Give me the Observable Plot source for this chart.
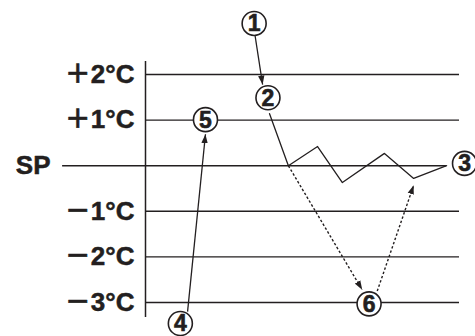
<!DOCTYPE html>
<html><head><meta charset="utf-8">
<script src="https://cdn.jsdelivr.net/npm/d3@7"></script>
<script src="https://cdn.jsdelivr.net/npm/@observablehq/plot@0.6"></script>
<style>body{margin:0;background:#fff}</style>
</head><body><div id="chart"></div>
<script>
// temperature deviation levels (°C from set point) and their labels
const levels = [2, 1, -1, -2, -3];
const levelLabels = ["＋2°C", "＋1°C", "－1°C", "－2°C", "－3°C"];
const setpoint = 0;
const setpointLabel = "SP";

// time axis (arbitrary units 0..100)
const timeStart = 0, timeEnd = 100;
const spLineStart = -26.4, spLineEnd = 95.9;
const axisTop = 2.285, axisBottom = -3.33;

// controlled temperature response (solid zigzag)
const responseT = [39.5, 45.5, 54.8, 62.7, 76.1, 85.4, 95.9];
const responseV = [1.14, 0, 0.42, -0.37, 0.27, -0.28, 0];

// circled step numbers
const stepIds = ["1", "2", "3", "4", "5", "6"];
const stepT = [34.6, 39.0, 101.6, 11.1, 19.1, 71.2];
const stepV = [3.12, 1.49, 0.05, -3.46, 1.01, -3.03];

// solid arrows: 1 → 2, 4 → 5
const solidFromT = [34.9, 13.4], solidFromV = [2.85, -3.2];
const solidToT = [37.3, 19.1], solidToV = [1.78, 0.69];

// dotted arrows: SP → 6, 6 → response dip
const dotFromT = [45.5, 73.8], dotFromV = [0, -2.75];
const dotToT = [69.0, 85.4], dotToV = [-2.72, -0.43];

const ink = "#231f20";
const font = "'Liberation Sans', Arial, 'Noto Sans CJK JP', sans-serif";

function arrowHead(color) {
  const ns = "http://www.w3.org/2000/svg";
  const m = document.createElementNS(ns, "marker");
  m.setAttribute("viewBox", "-9 -3.5 9 7");
  m.setAttribute("markerWidth", 9);
  m.setAttribute("markerHeight", 7);
  m.setAttribute("markerUnits", "userSpaceOnUse");
  m.setAttribute("orient", "auto");
  m.setAttribute("refX", 0);
  m.setAttribute("refY", 0);
  const p = document.createElementNS(ns, "path");
  p.setAttribute("d", "M0,0L-9,-3.2L-9,3.2Z");
  p.setAttribute("fill", ink);
  p.setAttribute("stroke", "none");
  m.appendChild(p);
  return m;
}

const response = responseT.map((t, i) => ({t, v: responseV[i]}));
const steps = stepIds.map((id, i) => ({id, t: stepT[i], v: stepV[i]}));
const solid = solidFromT.map((t, i) => ({t1: t, v1: solidFromV[i], t2: solidToT[i], v2: solidToV[i]}));
const dotted = dotFromT.map((t, i) => ({t1: t, v1: dotFromV[i], t2: dotToT[i], v2: dotToV[i]}));
const labelRows = levels.map((v, i) => ({v, label: levelLabels[i]}));

const chart = Plot.plot({
  width: 475,
  height: 336,
  marginLeft: 145,
  marginRight: 16,
  marginTop: 74,
  marginBottom: 34,
  style: {background: "#fff", fontFamily: font, color: ink},
  x: {domain: [timeStart, timeEnd], axis: null},
  y: {domain: [-3, 2], axis: null},
  marks: [
    Plot.ruleY(levels, {x1: timeStart, x2: timeEnd, stroke: ink, strokeWidth: 1.4}),
    Plot.ruleY([setpoint], {x1: spLineStart, x2: spLineEnd, stroke: ink, strokeWidth: 1.4}),
    Plot.ruleX([timeStart], {y1: axisTop, y2: axisBottom, stroke: ink, strokeWidth: 1.5}),
    Plot.line(response, {x: "t", y: "v", stroke: ink, strokeWidth: 1.3}),
    Plot.link(dotted, {x1: "t1", y1: "v1", x2: "t2", y2: "v2", stroke: ink, strokeWidth: 1.4, strokeDasharray: "2.5,2", markerEnd: arrowHead}),
    Plot.link(solid, {x1: "t1", y1: "v1", x2: "t2", y2: "v2", stroke: ink, strokeWidth: 1.3, markerEnd: arrowHead}),
    Plot.dot(steps, {x: "t", y: "v", r: 12, fill: "#fff", stroke: ink, strokeWidth: 1.6}),
    Plot.text(steps, {x: "t", y: "v", text: "id", fontSize: 23, fontWeight: "bold", fill: ink, stroke: ink, strokeWidth: 0.6, dy: 0.5}),
    Plot.text(labelRows, {x: timeStart, y: "v", text: "label", textAnchor: "end", dx: -11, fontSize: 26, fontWeight: "bold", fill: ink, stroke: ink, strokeWidth: 0.5}),
    Plot.text([setpoint], {x: timeStart, y: d => d, text: [setpointLabel], textAnchor: "end", dx: -95, fontSize: 26, fontWeight: "bold", fill: ink, stroke: ink, strokeWidth: 0.5})
  ]
});
document.getElementById("chart").appendChild(chart);
</script>
</body></html>
